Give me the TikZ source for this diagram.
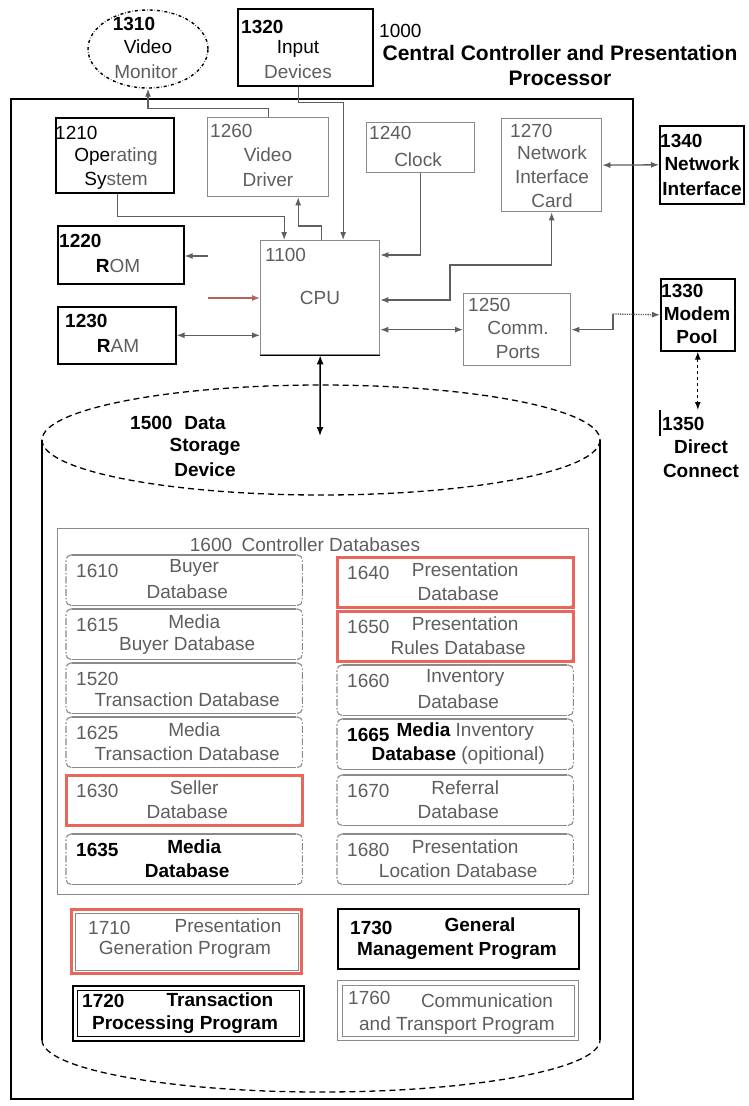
\documentclass[tikz,border=0pt]{standalone}
\usepackage{fontspec}
\setmainfont{Liberation Sans}
\usetikzlibrary{arrows.meta,shapes.geometric}
\newcommand\labfont{\fontsize{19}{21}\selectfont}
\newcommand\ttlfont{\fontsize{21}{23}\selectfont\bfseries}
\definecolor{tg}{HTML}{5E5E5E}
\definecolor{lg}{HTML}{8A8A8A}
\definecolor{rd}{HTML}{E8665A}
\newcommand\mkdb[7]{%
  \node[dbb] (#1) at (#2,#3) {};
  \draw[dbl] ([xshift=6pt]#1.north west) -- ([xshift=-6pt]#1.north east);
  \draw[dbl] ([xshift=6pt]#1.south west) -- ([xshift=-6pt]#1.south east);
  \draw[dbs] ([xshift=6pt]#1.north west) -- (#1.north west) -- (#1.south west) -- ([xshift=6pt]#1.south west);
  \draw[dbs] ([xshift=-6pt]#1.north east) -- (#1.north east) -- (#1.south east) -- ([xshift=-6pt]#1.south east);
  \node[#7, anchor=west] (#1n) at ([xshift=10pt,yshift=-16pt]#1.north west) {#4};
  \node[#7] (#1a) at ([xshift=10pt,yshift=-13pt]#1.north) {#5};
  \node[#7] (#1b) at ([xshift=3pt,yshift=-37pt]#1.north) {#6};
}
\begin{document}
\begin{tikzpicture}[x=1pt,y=-1pt,
  bx/.style={draw=black, line width=1.6pt, inner sep=0pt, anchor=north west},
  gbx/.style={draw=lg, line width=1.3pt, inner sep=0pt, anchor=north west},
  bt/.style={font=\labfont, text=black, inner sep=0pt},
  bbt/.style={font=\labfont\bfseries, text=black, inner sep=0pt},
  gt/.style={font=\labfont, text=tg, inner sep=0pt},
  arr/.style={draw=tg, line width=1.3pt, -{Latex[length=8pt,width=6pt]}},
  darr/.style={draw=tg, line width=1.3pt, {Latex[length=8pt,width=6pt]}-{Latex[length=8pt,width=6pt]}},
  dbb/.style={minimum width=236pt, minimum height=50pt, inner sep=0pt, anchor=north west},
  dbl/.style={draw=lg, line width=1.1pt},
  dbs/.style={draw=lg, line width=1.1pt, rounded corners=5pt, dash pattern=on 7pt off 2pt on 1.5pt off 2pt},
  redb/.style={draw=rd, line width=3pt},
]
\useasboundingbox (0,0) rectangle (749,1106);
\fill[white] (0,0) rectangle (749,1106);

% outer controller box
\node[bx, line width=2pt, minimum width=622pt, minimum height=1000pt] (ctl) at (10,98) {};

% title
\node[bt, anchor=west] (t1000) at (379,31) {1000};
\node[bt, font=\ttlfont] (tt1) at (560,53) {Central Controller and Presentation};
\node[bt, font=\ttlfont] (tt2) at (560,78) {Processor};

% video monitor
\node[draw=black, dash dot, line width=1.4pt, ellipse, minimum width=120pt, minimum height=78pt, inner sep=0pt] (mon) at (148,49) {};
\node[bbt] (mon1) at (134,24) {1310};
\node[bt] (mon2) at (148,47) {Video};
\node[gt] (mon3) at (146,72) {Monitor};

% input devices
\node[bx, minimum width=135pt, minimum height=77pt] (inp) at (237,8) {};
\node[bbt, anchor=west] (inp1) at (241,27) {1320};
\node[bt] (inp2) at (298,49) {Input};
\node[gt] (inp3) at (298,72) {Devices};

% operating system
\node[bx, minimum width=118pt, minimum height=75pt] (os) at (55,117) {};
\node[bt, anchor=west] (os1) at (55,133) {1210};
\node[gt] (os2) at (116,157) {{\color{black}Ope}rating};
\node[gt] (os3) at (116,181) {{\color{black}Sy}stem};

% video driver
\node[gbx, minimum width=121pt, minimum height=79pt] (vd) at (207,117) {};
\node[gt, anchor=west] (vd1) at (210,131) {1260};
\node[gt] (vd2) at (268,155) {Video};
\node[gt] (vd3) at (268,180) {Driver};

% clock
\node[gbx, minimum width=108pt, minimum height=50pt] (clk) at (366,122) {};
\node[gt, anchor=west] (clk1) at (369,133) {1240};
\node[gt] (clk2) at (418,160) {Clock};

% network interface card
\node[gbx, minimum width=100pt, minimum height=93pt] (nic) at (501,118) {};
\node[gt, anchor=west] (nic1) at (510,131) {1270};
\node[gt] (nic2) at (552,153) {Network};
\node[gt] (nic3) at (552,177) {Interface};
\node[gt] (nic4) at (552,201) {Card};

% network interface
\node[bx, minimum width=84pt, minimum height=78pt] (ni) at (659,125) {};
\node[bbt, anchor=west] (ni1) at (660,141) {1340};
\node[bbt] (ni2) at (702,164) {Network};
\node[bbt] (ni3) at (702,189) {Interface};

% ROM, RAM
\node[bx, minimum width=126pt, minimum height=58pt] (rom) at (57,225) {};
\node[bbt, anchor=west] (rom1) at (59,241) {1220};
\node[gt] (rom2) at (118,266) {{\color{black}\bfseries R}OM};
\node[bx, minimum width=118pt, minimum height=57pt] (ram) at (57,306) {};
\node[bbt, anchor=west] (ram1) at (65,321) {1230};
\node[gt] (ram2) at (118,346) {{\color{black}\bfseries R}AM};

% CPU
\node[gbx, minimum width=119pt, minimum height=114pt] (cpu) at (260,240) {};
\draw[black, line width=1.6pt] (cpu.south west) -- (cpu.south east);
\node[gt, anchor=west] (cpu1) at (265,255) {1100};
\node[gt] (cpu2) at (320,298) {CPU};

% comm ports
\node[gbx, minimum width=107pt, minimum height=72pt] (cp) at (463,293) {};
\node[gt, anchor=west] (cp1) at (468,305) {1250};
\node[gt] (cp2) at (518,328) {Comm.};
\node[gt] (cp3) at (518,352) {Ports};

% modem pool
\node[bx, minimum width=74pt, minimum height=72pt] (mp) at (660,278) {};
\node[bbt, anchor=west] (mp1) at (661,291) {1330};
\node[bbt] (mp2) at (697,314) {Modem};
\node[bbt] (mp3) at (697,337) {Pool};

% direct connect
\node[inner sep=0pt, minimum width=74pt, minimum height=68pt, anchor=north west] (dc) at (660,410) {};
\draw[black, line width=1.2pt] (dc.north west) -- ([yshift=-26pt]dc.north west);
\node[bbt, anchor=west] (dc1) at (662,424) {1350};
\node[bbt] (dc2) at (701,447) {Direct};
\node[bbt] (dc3) at (701,471) {Connect};

% connectors in the controller
\draw[arr] (vd.north) |- ([yshift=-20pt]mon.south) -- (mon.south);
\draw[arr] ([xshift=-7pt]inp.south) -- ++(0,16) -| ([xshift=23pt]cpu.north);
\draw[arr] ([xshift=3pt]os.south) -- ++(0,23) -| ([xshift=-36pt]cpu.north);
\draw[arr] ([xshift=1pt]cpu.north) -- ++(0,-14) -| ([xshift=30pt]vd.south);
\draw[arr] (clk.south) |- ([yshift=-15pt]cpu.north east);
\draw[darr] ([yshift=-60pt]cpu.north east) -| (450,265) -| (nic.south);
\draw[darr] (cpu.east |- cp.west) -- (cp.west);
\draw[darr] (nic.east) -- (ni.west);
\coordinate (cpj) at (613,314);
\draw[arr] (cpj) |- (cp.east);
\draw[arr, densely dotted] (cpj) -- (mp.west);
\draw[darr, draw=black, dashed, {Latex[length=8pt,width=6pt]}-{Latex[length=8pt,width=6pt]}] (mp.south) -- (dc.north -| mp.south);
\draw[darr] (ram.east) -- (cpu.west |- ram.east);
\coordinate (hang1) at (208,298);
\draw[arr, draw=rd!60!tg] (hang1) -- (cpu.west |- hang1);
\coordinate (hang2) at (208,256);
\draw[arr] (hang2) -- (rom.east |- hang2);

% data storage cylinder
\coordinate (ds) at (320,436);
\draw[black, line width=1.5pt, {Latex[length=9pt,width=7pt]}-{Latex[length=9pt,width=7pt]}] (cpu.south) -- (ds);
\draw[black, line width=1.3pt, dash pattern=on 6pt off 4pt] (321,440) ellipse [x radius=279, y radius=55];
\draw[black, line width=1.6pt] (42,440) -- (42,1040);
\draw[black, line width=1.6pt] (600,440) -- (600,1040);
\draw[black, line width=1.3pt, dash pattern=on 6pt off 4pt] (42,1040) arc[start angle=180, end angle=0, x radius=279, y radius=52];
\node[bbt, anchor=west] (ds1) at (130,423) {1500};
\node[bbt] (ds2) at (205,423) {Data};
\node[bbt] (ds3) at (205,447) {Storage};
\node[bbt] (ds4) at (205,470) {Device};

% controller databases
\node[draw=lg, line width=1.2pt, minimum width=531pt, minimum height=366pt, inner sep=0pt, anchor=north west] (cdb) at (57,528) {};
\node[gt] (cdb1) at (305,545) {1600\enspace Controller Databases};

\mkdb{b1610}{66}{555}{1610}{Buyer}{Database}{gt}
\mkdb{b1615}{66}{609}{1615}{Media}{Buyer Database}{gt}
\mkdb{b1520}{66}{663}{1520}{}{Transaction Database}{gt}
\mkdb{b1625}{66}{717}{1625}{Media}{Transaction Database}{gt}
\mkdb{b1630}{66}{775}{1630}{Seller}{Database}{gt}
\mkdb{b1635}{66}{834}{1635}{Media}{Database}{bbt}
\mkdb{b1640}{337}{557}{1640}{Presentation}{Database}{gt}
\mkdb{b1650}{337}{611}{1650}{Presentation}{Rules Database}{gt}
\mkdb{b1660}{337}{665}{1660}{Inventory}{Database}{gt}
\mkdb{b1665}{337}{719}{{\color{black}\bfseries 1665}}{{\color{black}\bfseries Media} Inventory}{{\color{black}\bfseries Database} (opitional)}{gt}
\mkdb{b1670}{337}{775}{1670}{Referral}{Database}{gt}
\mkdb{b1680}{337}{834}{1680}{Presentation}{Location Database}{gt}
\draw[redb] (b1630.north west) rectangle (b1630.south east);
\draw[redb] (b1640.north west) rectangle (b1640.south east);
\draw[redb] (b1650.north west) rectangle (b1650.south east);

% programs
\node[redb, minimum width=230pt, minimum height=64pt, inner sep=0pt, anchor=north west] (p1710) at (70,908) {};
\draw[lg, line width=1pt] ([shift={(5pt,-5pt)}]p1710.north west) rectangle ([shift={(-5pt,5pt)}]p1710.south east);
\node[gt, anchor=west] (p1710n) at (88,928) {1710};
\node[gt] (p1710a) at (228,926) {Presentation};
\node[gt] (p1710b) at (185,950) {Generation Program};

\node[bx, minimum width=241pt, minimum height=60pt] (p1730) at (337,908) {};
\node[bbt, anchor=west] (p1730n) at (350,928) {1730};
\node[bbt] (p1730a) at (480,925) {General};
\node[bbt] (p1730b) at (457,951) {Management Program};

\node[bx, minimum width=231pt, minimum height=55pt] (p1720) at (72,985) {};
\draw[black, line width=1pt] ([shift={(5pt,-5pt)}]p1720.north west) rectangle ([shift={(-5pt,5pt)}]p1720.south east);
\node[bbt, anchor=west] (p1720n) at (82,1001) {1720};
\node[bbt] (p1720a) at (220,1000) {Transaction};
\node[bbt] (p1720b) at (185,1025) {Processing Program};

\node[gbx, minimum width=241pt, minimum height=60pt] (p1760) at (337,980) {};
\draw[lg, line width=1pt] ([shift={(5pt,-5pt)}]p1760.north west) rectangle ([shift={(-5pt,5pt)}]p1760.south east);
\node[gt, anchor=west] (p1760n) at (348,998) {1760};
\node[gt] (p1760a) at (487,1001) {Communication};
\node[gt] (p1760b) at (457,1026) {and Transport Program};
\end{tikzpicture}
\end{document}
